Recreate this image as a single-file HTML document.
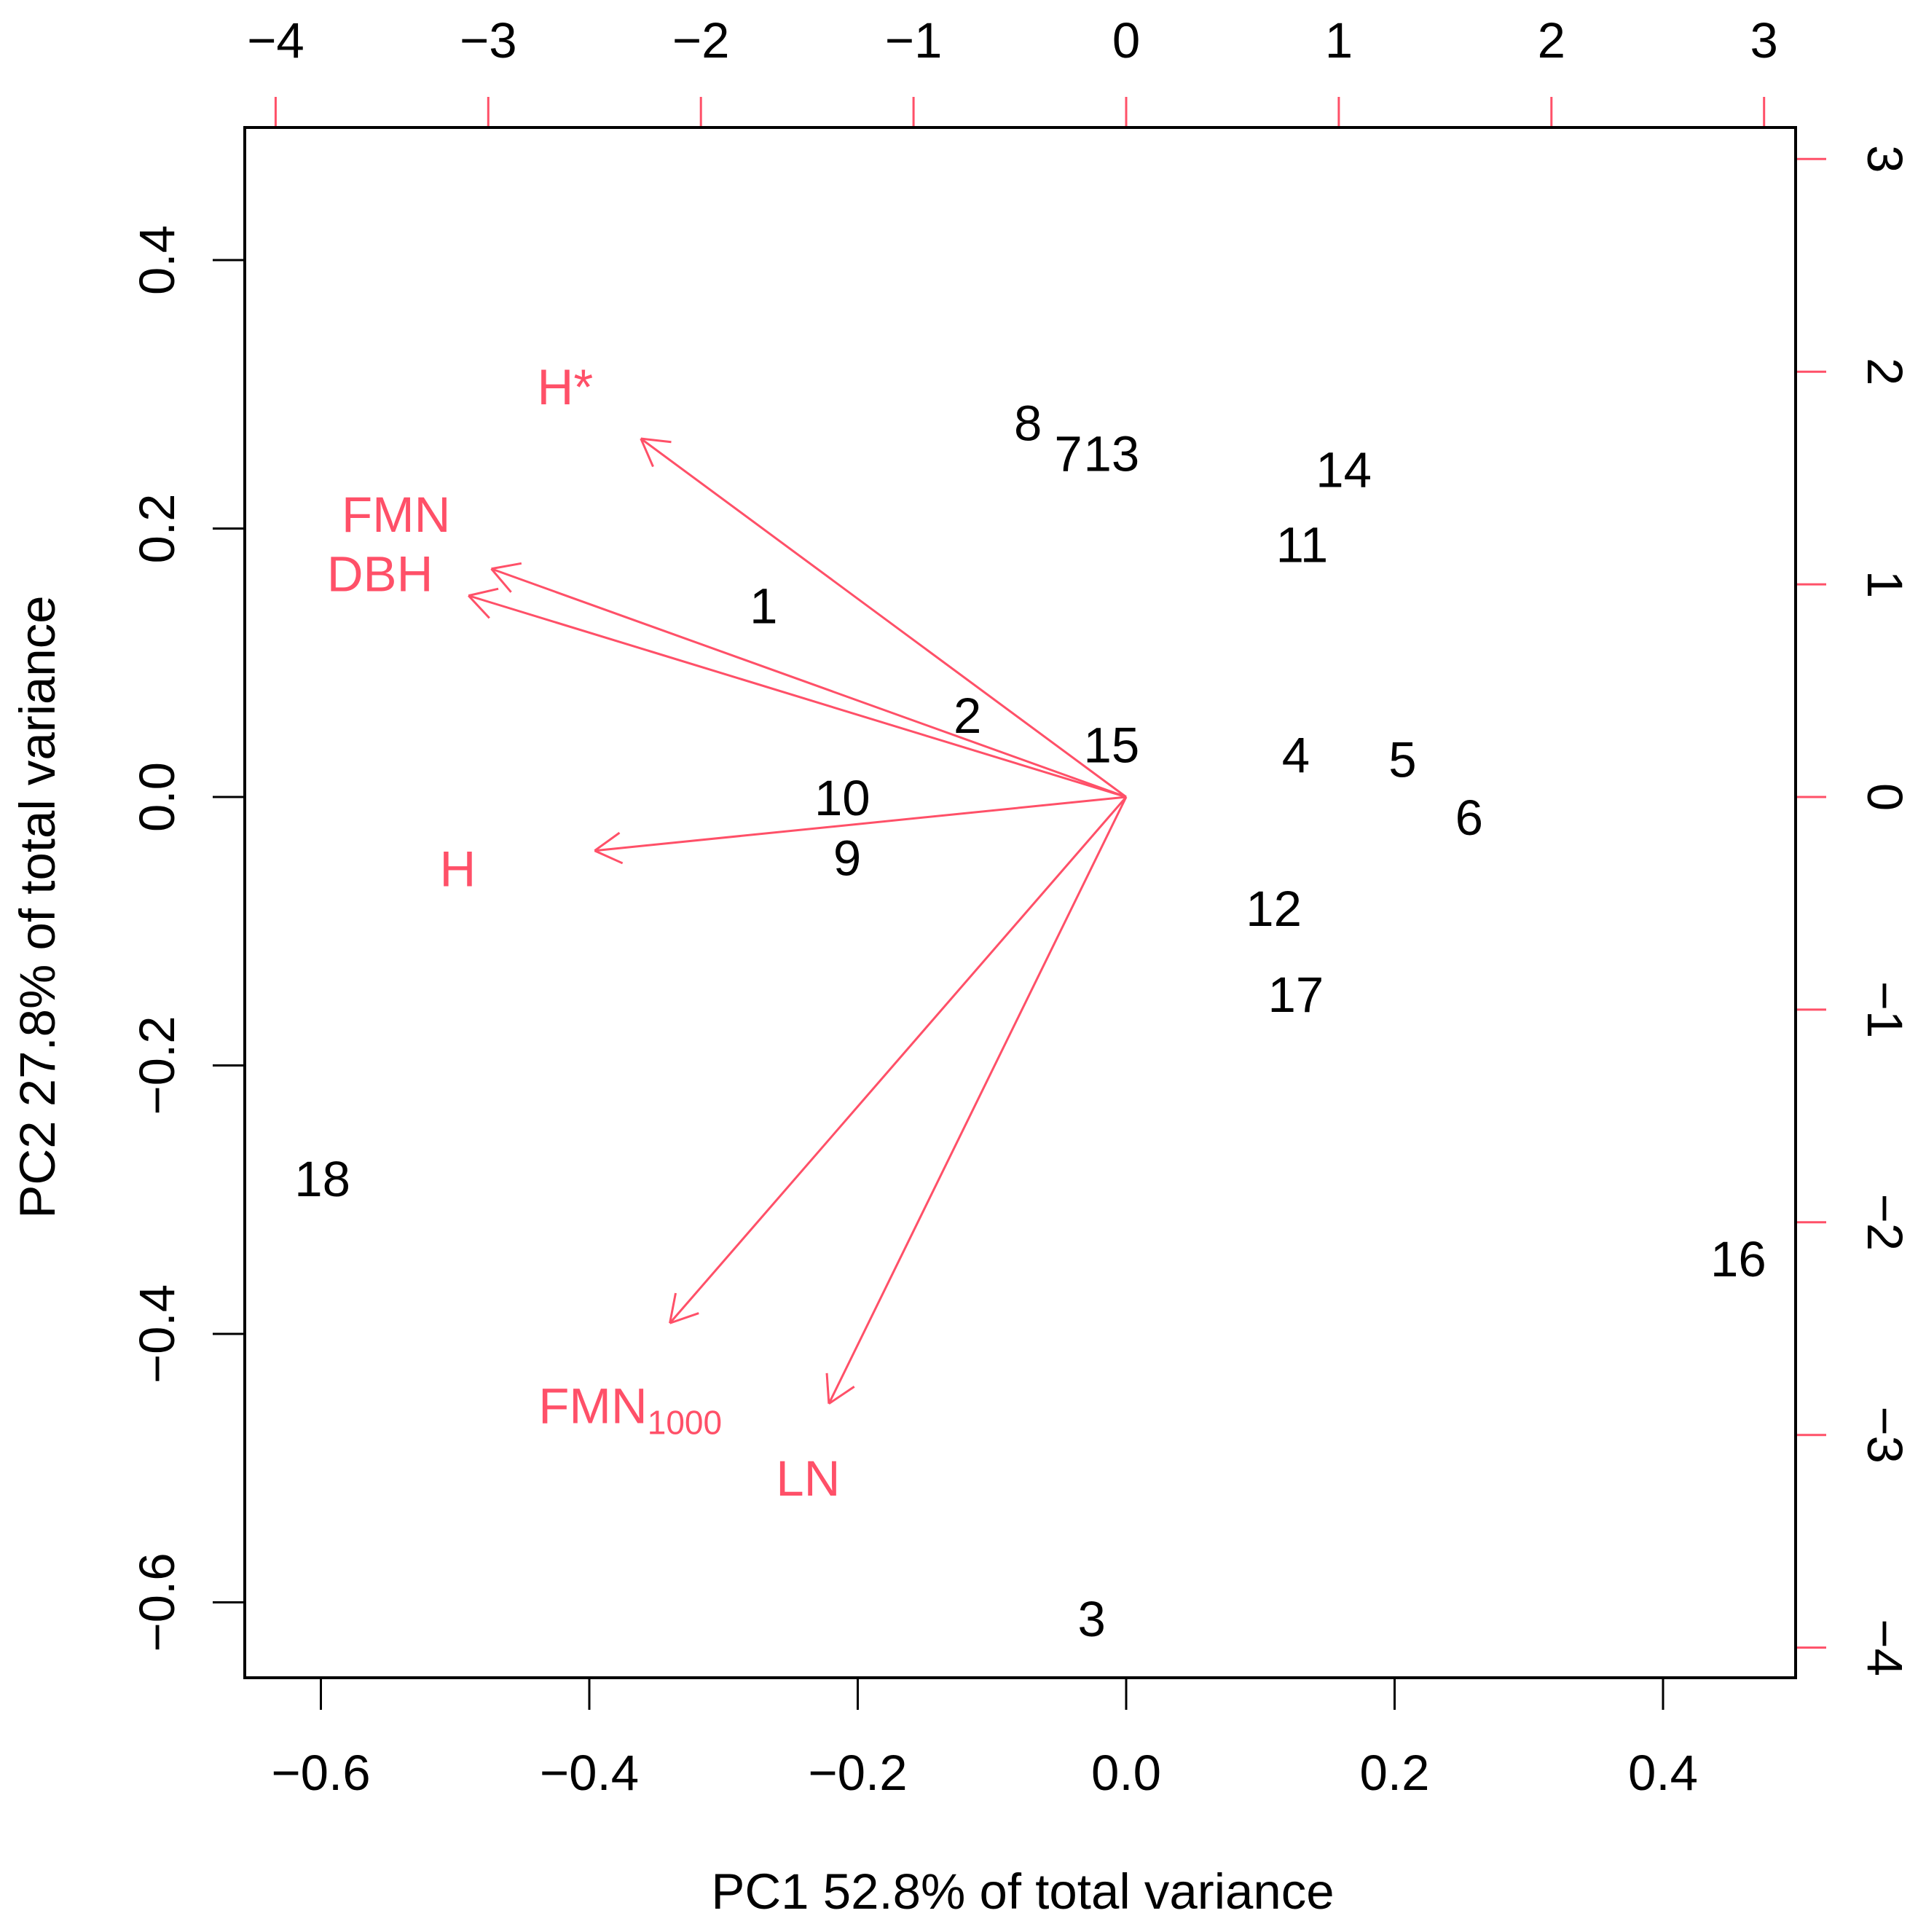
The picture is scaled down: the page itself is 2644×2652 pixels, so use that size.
<!DOCTYPE html>
<html><head><meta charset="utf-8"><style>
html,body{margin:0;padding:0;background:#fff}
svg{display:block}
text{font-family:"Liberation Sans",Arial,sans-serif}
</style></head><body>
<svg id="chart" width="2644" height="2652" viewBox="0 0 2644 2652" xmlns="http://www.w3.org/2000/svg">
<g id="ticks"></g>
<g id="marks"></g>
<rect x="336" y="175" width="2129" height="2128" fill="none" stroke="#000" stroke-width="4"/>
<text x="1404" y="2620" font-size="69" text-anchor="middle">PC1 52.8% of total variance</text>
<text transform="translate(75,1245) rotate(-90)" font-size="69" text-anchor="middle">PC2 27.8% of total variance</text>
</svg>
<script>
const pointLabels=["1","2","3","4","5","6","7","8","9","10","11","12","13","14","15","16","17","18"];
const pc1Scores=[-1.705,-0.746,-0.162,0.798,1.30,1.613,-0.272,-0.462,-1.312,-1.335,0.827,0.694,-0.069,1.023,-0.069,2.879,0.798,-3.78];
const pc2Scores=[0.902,0.387,-3.861,0.202,0.179,-0.092,1.618,1.763,-0.283,0.0,1.191,-0.520,1.618,1.543,0.249,-2.168,-0.925,-1.792];
const varNames=["H*","FMN","DBH","H","FMN","LN"];
const varSubs=["","","","","1000",""];
const pc1Loadings=[-0.3616,-0.473,-0.490,-0.396,-0.340,-0.2215];
const pc2Loadings=[0.267,0.170,0.150,-0.040,-0.392,-0.452];
const labelPc1=[-0.418,-0.544,-0.556,-0.498,-0.3695,-0.237];
const labelPc2=[0.306,0.211,0.167,-0.053,-0.453,-0.507];
const loadTicks=[-0.6,-0.4,-0.2,0.0,0.2,0.4];
const loadTickLabels=["\u22120.6","\u22120.4","\u22120.2","0.0","0.2","0.4"];
const scoreTicks=[-4,-3,-2,-1,0,1,2,3];
const scoreTickLabels=["\u22124","\u22123","\u22122","\u22121","0","1","2","3"];

const NS="http://www.w3.org/2000/svg";
const RED="#ff5068";
const FS=69;
const X0=1546,Y0=1094,LS=1842.5,SS=291.9;
const lx=v=>X0+v*LS, ly=v=>Y0-v*LS, sx=v=>X0+v*SS, sy=v=>Y0-v*SS;
const axes=document.getElementById('ticks'), marks=document.getElementById('marks');
function mk(tag,attrs,parent){const e=document.createElementNS(NS,tag);for(const k in attrs)e.setAttribute(k,attrs[k]);parent.appendChild(e);return e;}

loadTicks.forEach((v,i)=>{
  const t=mk('line',{x1:lx(v),x2:lx(v),y1:2303,y2:2347,stroke:'#000','stroke-width':3},axes);
  
  
  const l=mk('text',{x:lx(v),y:2457,'font-size':FS,'text-anchor':'middle'},axes);
  l.textContent=loadTickLabels[i];
  
  
  const t2=mk('line',{x1:336,x2:292,y1:ly(v),y2:ly(v),stroke:'#000','stroke-width':3},axes);
  
  
  const l2=mk('text',{transform:`translate(239,${ly(v)}) rotate(-90)`,'font-size':FS,'text-anchor':'middle'},axes);
  l2.textContent=loadTickLabels[i];
  
  
});
scoreTicks.forEach((v,i)=>{
  const t=mk('line',{x1:sx(v),x2:sx(v),y1:175,y2:133,stroke:RED,'stroke-width':3},axes);
  
  
  const l=mk('text',{x:sx(v),y:79,'font-size':FS,'text-anchor':'middle'},axes);
  l.textContent=scoreTickLabels[i];
  
  
  const t2=mk('line',{x1:2465,x2:2507,y1:sy(v),y2:sy(v),stroke:RED,'stroke-width':3},axes);
  
  
  const l2=mk('text',{transform:`translate(2564,${sy(v)}) rotate(90)`,'font-size':FS,'text-anchor':'middle'},axes);
  l2.textContent=scoreTickLabels[i];
  
  
});
pointLabels.forEach((p,i)=>{
  const t=mk('text',{x:sx(pc1Scores[i]),y:sy(pc2Scores[i])+25,'font-size':FS,'text-anchor':'middle'},marks);
  t.textContent=p;
  
  
});
varNames.forEach((n,i)=>{
  const x2=lx(pc1Loadings[i]),y2=ly(pc2Loadings[i]);
  const g=mk('g',{stroke:RED,'stroke-width':3,fill:'none'},marks);
  
  
  mk('line',{x1:X0,y1:Y0,x2:x2,y2:y2},g);
  const a=Math.atan2(y2-Y0,x2-X0),h=42;
  [Math.PI/6,-Math.PI/6].forEach(d=>{
    mk('line',{x1:x2,y1:y2,x2:x2-h*Math.cos(a+d),y2:y2-h*Math.sin(a+d)},g);
  });
  const t=mk('text',{x:lx(labelPc1[i]),y:ly(labelPc2[i])+25,'font-size':FS,'text-anchor':'middle',fill:RED},marks);
  t.textContent=n;
  if(varSubs[i]){const s=mk('tspan',{'font-size':46,dy:15},t);s.textContent=varSubs[i];}
  
  
});
</script>
</body></html>
